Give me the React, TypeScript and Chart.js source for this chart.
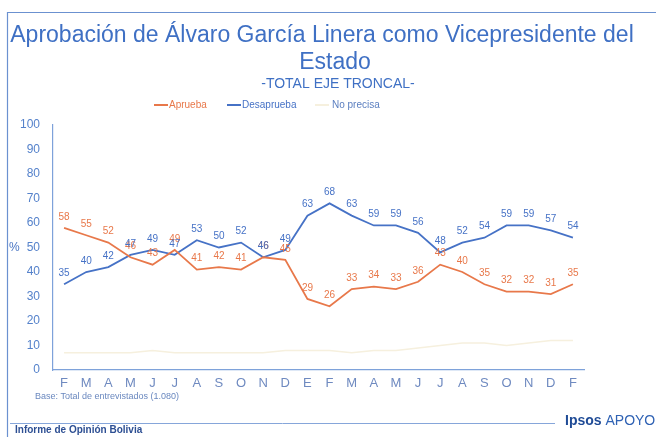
import React, { useEffect, useRef } from "react";
import { Chart, registerables } from "chart.js";

Chart.register(...registerables);

const months = ["F", "M", "A", "M", "J", "J", "A", "S", "O", "N", "D", "E", "F", "M", "A", "M", "J", "J", "A", "S", "O", "N", "D", "F"];
const aprueba = [58, 55, 52, 46, 43, 49, 41, 42, 41, 46, 45, 29, 26, 33, 34, 33, 36, 43, 40, 35, 32, 32, 31, 35];
const desaprueba = [35, 40, 42, 47, 49, 47, 53, 50, 52, 46, 49, 63, 68, 63, 59, 59, 56, 48, 52, 54, 59, 59, 57, 54];
const noPrecisa = [7, 7, 7, 7, 8, 7, 7, 7, 7, 7, 8, 8, 8, 7, 8, 8, 9, 10, 11, 11, 10, 11, 12, 12];
const yTicks = [0, 10, 20, 30, 40, 50, 60, 70, 80, 90, 100];

const titleLines = ["Aprobación de Álvaro García Linera como Vicepresidente del", "Estado"];
const subtitle = "-TOTAL EJE TRONCAL-";
const baseNote = "Base: Total de entrevistados (1.080)";
const footerLeft = "Informe de Opinión Bolivia";

const ORANGE = "#e8784a";
const BLUE = "#4672c6";
const PALE = "#f6f0de";
const FONT = "'Liberation Sans', Arial, sans-serif";

const decorPlugin = {
  id: "decor",
  beforeDraw(chart: any) {
    const ctx = chart.ctx;
    ctx.save();
    ctx.fillStyle = "#ffffff";
    ctx.fillRect(0, 0, chart.width, chart.height);
    ctx.strokeStyle = "#6b91d0";
    ctx.lineWidth = 1.2;
    ctx.beginPath();
    ctx.moveTo(7.5, 437);
    ctx.lineTo(7.5, 12.5);
    ctx.lineTo(656, 12.5);
    ctx.stroke();
    ctx.strokeStyle = "#86a6da";
    ctx.lineWidth = 1;
    ctx.beginPath();
    ctx.moveTo(10, 423.5);
    ctx.lineTo(555, 423.5);
    ctx.stroke();
    ctx.restore();
  },
  afterDraw(chart: any) {
    const ctx = chart.ctx;
    ctx.save();
    ctx.textAlign = "center";
    ctx.textBaseline = "middle";
    ctx.fillStyle = "#3f70c4";
    ctx.font = `23px ${FONT}`;
    ctx.fillText(titleLines[0], 322, 36);
    ctx.fillText(titleLines[1], 335, 63);
    ctx.font = `14px ${FONT}`;
    ctx.fillText(subtitle, 338, 84);

    // legend
    ctx.font = `10px ${FONT}`;
    ctx.textAlign = "left";
    const items = chart.data.datasets.map((d: any) => ({ label: d.label, color: d.borderColor }));
    const xs = [154, 227, 315];
    const txtColors = [ORANGE, BLUE, "#5b7fc0"];
    items.forEach((it: any, i: number) => {
      const x = xs[i];
      ctx.strokeStyle = it.color;
      ctx.lineWidth = 2;
      ctx.beginPath();
      ctx.moveTo(x, 105);
      ctx.lineTo(x + 14, 105);
      ctx.stroke();
      ctx.fillStyle = txtColors[i];
      ctx.fillText(it.label, x + (i === 2 ? 17 : 15), 105);
    });

    ctx.fillStyle = "#4a76c4";
    ctx.font = `12px ${FONT}`;
    ctx.fillText("%", 9, 248);

    ctx.fillStyle = "#6a88bf";
    ctx.font = `9px ${FONT}`;
    ctx.fillText(baseNote, 35, 397);

    ctx.fillStyle = "#2d4f93";
    ctx.font = `bold 10px ${FONT}`;
    ctx.fillText(footerLeft, 15, 430);
    ctx.font = `bold 14px ${FONT}`;
    ctx.fillStyle = "#1f4b96";
    ctx.fillText("Ipsos", 565, 421);
    const w = ctx.measureText("Ipsos ").width;
    ctx.font = `14px ${FONT}`;
    ctx.fillStyle = "#2f62b4";
    ctx.fillText("APOYO", 565 + w, 421);
    ctx.restore();
  },
  afterDatasetsDraw(chart: any) {
    const ctx = chart.ctx;
    ctx.save();
    ctx.font = `10px ${FONT}`;
    ctx.textAlign = "center";
    ctx.textBaseline = "middle";
    [0, 1].forEach((di) => {
      const ds = chart.data.datasets[di];
      const meta = chart.getDatasetMeta(di);
      ctx.fillStyle = ds.borderColor;
      meta.data.forEach((pt: any, i: number) => {
        ctx.fillText(String(ds.data[i]), pt.x, pt.y - 11);
      });
    });
    ctx.restore();
  },
};

export default function App() {
  const ref = useRef<HTMLCanvasElement>(null);
  useEffect(() => {
    if (!ref.current) return;
    const chart = new Chart(ref.current, {
      type: "line",
      data: {
        labels: months,
        datasets: [
          { label: "Aprueba", data: aprueba, borderColor: ORANGE, backgroundColor: ORANGE, borderWidth: 1.8, pointRadius: 0, tension: 0 },
          { label: "Desaprueba", data: desaprueba, borderColor: BLUE, backgroundColor: BLUE, borderWidth: 1.8, pointRadius: 0, tension: 0 },
          { label: "No precisa", data: noPrecisa, borderColor: PALE, backgroundColor: PALE, borderWidth: 1.5, pointRadius: 0, tension: 0 },
        ],
      },
      options: {
        responsive: false,
        animation: false,
        layout: { padding: { left: 0, right: 72, top: 125, bottom: 0 } },
        plugins: { legend: { display: false }, title: { display: false }, tooltip: { enabled: false } },
        scales: {
          x: {
            offset: true,
            grid: { display: false, drawTicks: false },
            border: { display: true, color: "#7ea2da", width: 1.2 },
            ticks: { color: "#6f8ac0", font: { family: FONT, size: 13 }, padding: 6, maxRotation: 0, autoSkip: false },
            afterFit: (s: any) => { s.height = 67; },
          },
          y: {
            min: 0,
            max: 100,
            afterBuildTicks: (s: any) => { s.ticks = yTicks.map((v) => ({ value: v })); },
            grid: { display: false, drawTicks: false },
            border: { display: true, color: "#7ea2da", width: 1.2 },
            ticks: { color: "#5582cb", font: { family: FONT, size: 12 }, padding: 13 },
            afterFit: (s: any) => { s.width = 53; },
          },
        },
      },
      plugins: [decorPlugin],
    });
    return () => chart.destroy();
  }, []);
  return (
    <div style={{ position: "fixed", left: 0, top: 0, width: 656, height: 437, background: "#fff" }}>
      <canvas ref={ref} width={656} height={437} style={{ display: "block" }} />
    </div>
  );
}
